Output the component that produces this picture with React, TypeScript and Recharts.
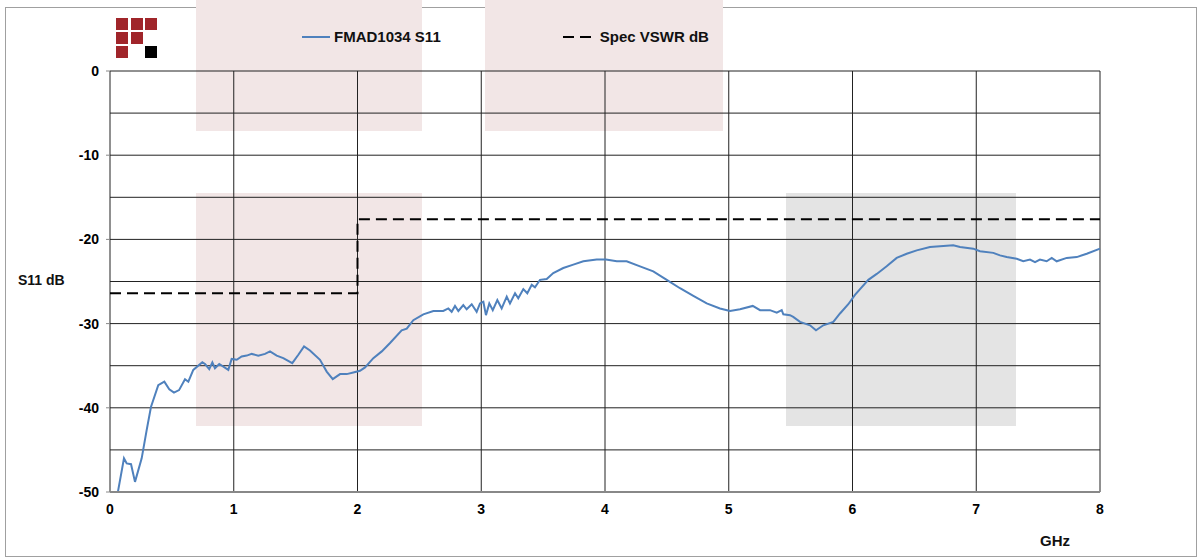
import React from "react";
import { LineChart, Line, XAxis, YAxis, CartesianGrid } from "recharts";

const s11Freq = [
  0.065, 0.113, 0.135, 0.17, 0.202, 0.256, 0.297, 0.331, 0.39, 0.439, 0.479, 0.517, 0.558, 0.606, 0.633,
  0.673, 0.746, 0.768, 0.802, 0.827, 0.848, 0.883, 0.956, 0.983, 1.024, 1.064, 1.105, 1.145, 1.198, 1.253,
  1.293, 1.347, 1.4, 1.473, 1.522, 1.568, 1.616, 1.697, 1.751, 1.8, 1.859, 1.913, 1.966, 2.02, 2.061,
  2.128, 2.196, 2.263, 2.357, 2.398, 2.451, 2.532, 2.613, 2.693, 2.734, 2.761, 2.788, 2.815, 2.855, 2.882,
  2.923, 2.963, 2.99, 3.017, 3.038, 3.065, 3.093, 3.13, 3.165, 3.206, 3.232, 3.273, 3.299, 3.34, 3.372,
  3.408, 3.434, 3.475, 3.529, 3.582, 3.663, 3.744, 3.825, 3.933, 4.008, 4.095, 4.175, 4.283, 4.39, 4.499,
  4.606, 4.714, 4.822, 4.929, 5.01, 5.091, 5.194, 5.253, 5.333, 5.388, 5.428, 5.441, 5.495, 5.521, 5.576,
  5.657, 5.705, 5.764, 5.845, 5.899, 5.966, 6.02, 6.061, 6.128, 6.196, 6.276, 6.357, 6.438, 6.519, 6.626,
  6.707, 6.814, 6.869, 6.976, 7.03, 7.138, 7.192, 7.246, 7.327, 7.38, 7.434, 7.475, 7.515, 7.569, 7.61,
  7.65, 7.731, 7.812, 7.893, 8.0,
];
const s11Db = [
  -49.9, -46.0, -46.6, -46.7, -48.8, -46.0, -42.6, -39.9, -37.3, -36.9, -37.8, -38.2, -37.9, -36.6, -36.9,
  -35.5, -34.6, -34.8, -35.4, -34.6, -35.3, -34.8, -35.5, -34.2, -34.3, -33.9, -33.8, -33.6, -33.8, -33.6,
  -33.3, -33.8, -34.1, -34.7, -33.7, -32.7, -33.2, -34.3, -35.7, -36.6, -36.0, -36.0, -35.8, -35.6, -35.2,
  -34.1, -33.3, -32.3, -30.8, -30.6, -29.6, -28.9, -28.5, -28.5, -28.2, -28.6, -27.9, -28.5, -27.8, -28.3,
  -27.7, -28.6, -27.6, -27.4, -29.0, -27.6, -28.4, -27.2, -28.2, -26.8, -27.6, -26.4, -27.0, -25.9, -26.4,
  -25.4, -25.7, -24.8, -24.7, -24.0, -23.4, -23.0, -22.6, -22.4, -22.4, -22.6, -22.6, -23.2, -23.8, -24.8,
  -25.8, -26.7, -27.6, -28.2, -28.5, -28.3, -27.9, -28.4, -28.4, -28.7, -28.4, -28.9, -29.0, -29.2, -29.8,
  -30.2, -30.8, -30.2, -29.8, -28.8, -27.7, -26.6, -25.9, -24.8, -24.1, -23.2, -22.2, -21.7, -21.3, -20.9,
  -20.8, -20.7, -20.9, -21.1, -21.4, -21.6, -21.9, -22.1, -22.3, -22.6, -22.4, -22.7, -22.4, -22.6, -22.2,
  -22.6, -22.2, -22.1, -21.7, -21.1,
];

// spec limit (step at 2 GHz)
const specFreq = [0, 2, 2, 8];
const specDb = [-26.4, -26.4, -17.6, -17.6];

const xTicks = [0, 1, 2, 3, 4, 5, 6, 7, 8];
const yTicks = [0, -10, -20, -30, -40, -50];
const gridDb = [0, -5, -10, -15, -20, -25, -30, -35, -40, -45, -50];

const s11Data = s11Freq.map((f, i) => ({ f, db: s11Db[i] }));
const specData = specFreq.map((f, i) => ({ f, db: specDb[i] }));

const FONT = "'Liberation Sans', Arial, sans-serif";
const BLUE = "#4F81BD";
const PINK = "#F2E6E6";
const GREY = "#E4E4E4";
const RED = "#A0252A";

// background decoration boxes (pixel layout, not data)
const boxes = [
  { left: 196, top: 0, width: 226, height: 131, bg: PINK },
  { left: 485, top: 0, width: 238, height: 131, bg: PINK },
  { left: 196, top: 193, width: 226, height: 233, bg: PINK },
  { left: 786, top: 193, width: 230, height: 233, bg: GREY },
];

// logo squares: [col, row, colour]
const logo: [number, number, string][] = [
  [0, 0, RED], [1, 0, RED], [2, 0, RED],
  [0, 1, RED], [1, 1, RED],
  [0, 2, RED], [2, 2, "#000"],
];

function LegendBox() {
  const txt = { fontSize: 15, fontWeight: 700, color: "#111", fontFamily: FONT };
  return (
    <div style={{ display: "flex", alignItems: "center", paddingLeft: 302, gap: 122 }}>
      <div style={{ display: "flex", alignItems: "center", gap: 4 }}>
        <svg width={28} height={4}>
          <line x1={0} y1={2} x2={28} y2={2} stroke={BLUE} strokeWidth={2} />
        </svg>
        <span style={txt}>FMAD1034 S11</span>
      </div>
      <div style={{ display: "flex", alignItems: "center", gap: 9 }}>
        <svg width={28} height={4}>
          <line x1={0} y1={2} x2={28} y2={2} stroke="#000" strokeWidth={2} strokeDasharray="11 6" />
        </svg>
        <span style={txt}>Spec VSWR dB</span>
      </div>
    </div>
  );
}

export default function App() {
  return (
    <div style={{ position: "absolute", left: 0, top: 0, width: 1201, height: 560, background: "#fff", fontFamily: FONT }}>
      <div style={{ position: "absolute", left: 5, top: 7, width: 1192, height: 550, border: "1px solid #a0a0a0", boxSizing: "border-box" }} />
      {boxes.map((b, i) => (
        <div key={i} style={{ position: "absolute", left: b.left, top: b.top, width: b.width, height: b.height, background: b.bg }} />
      ))}
      {logo.map(([c, r, col], i) => (
        <div key={`l${i}`} style={{ position: "absolute", left: 116 + c * 14.5, top: 18 + r * 14, width: 12, height: 11.5, background: col }} />
      ))}

      <div style={{ position: "absolute", left: 0, top: 0 }}>
        <LineChart width={1201} height={560} margin={{ top: 71, right: 101, bottom: 38, left: 0 }}>
          <CartesianGrid
            stroke="#222"
            strokeWidth={1}
            horizontalValues={gridDb}
            verticalValues={xTicks}
          />
          <XAxis
            type="number"
            dataKey="f"
            domain={[0, 8]}
            ticks={xTicks}
            height={30}
            axisLine={{ stroke: "#888", strokeWidth: 2 }}
            tickLine={false}
            tickSize={6}
            tickMargin={6}
            tick={{ fill: "#000", fontSize: 14, fontWeight: 700, fontFamily: FONT }}
          />
          <YAxis
            type="number"
            domain={[-50, 0]}
            ticks={yTicks}
            width={110}
            allowDataOverflow
            axisLine={false}
            tickLine={{ stroke: "#888" }}
            tickSize={4}
            tickMargin={7}
            tick={{ fill: "#000", fontSize: 14, fontWeight: 700, fontFamily: FONT }}
          />
          <Line
            data={s11Data}
            dataKey="db"
            name="FMAD1034 S11"
            type="linear"
            stroke={BLUE}
            strokeWidth={2}
            dot={false}
            activeDot={false}
            isAnimationActive={false}
          />
          <Line
            data={specData}
            dataKey="db"
            name="Spec VSWR dB"
            type="linear"
            stroke="#000"
            strokeWidth={2}
            strokeDasharray="11 6"
            dot={false}
            activeDot={false}
            isAnimationActive={false}
          />
        </LineChart>
      </div>

      <div style={{ position: "absolute", left: 0, top: 28, width: 1201 }}>
        <LegendBox />
      </div>
      <div style={{ position: "absolute", left: 18, top: 272, fontSize: 14, fontWeight: 700, color: "#111" }}>S11 dB</div>
      <div style={{ position: "absolute", left: 1040, top: 532, fontSize: 15, fontWeight: 700, color: "#111" }}>GHz</div>
    </div>
  );
}
